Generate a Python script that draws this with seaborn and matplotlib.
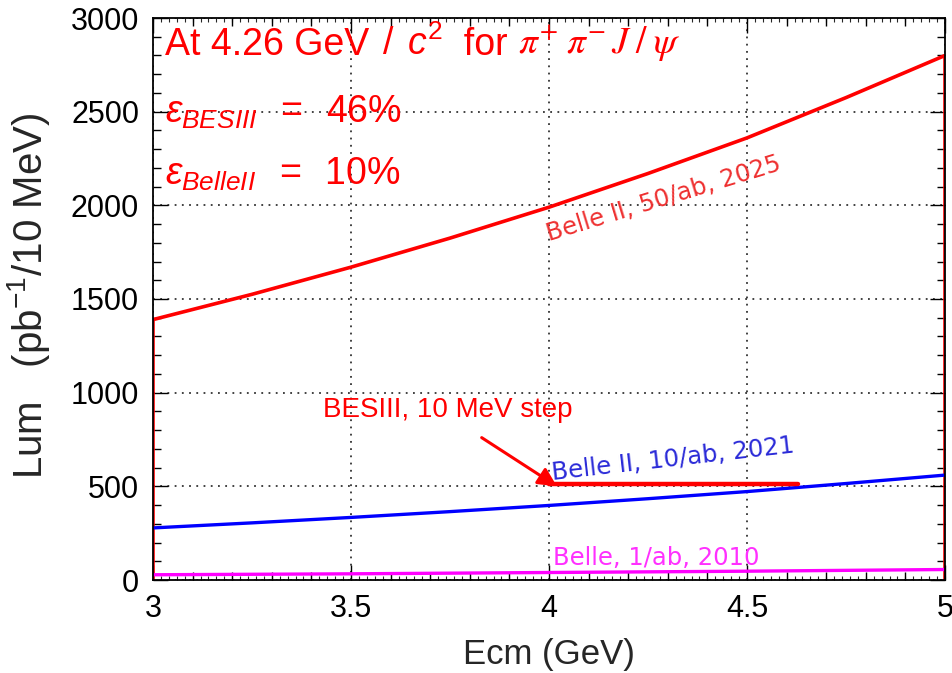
import numpy as np
import pandas as pd
import matplotlib
matplotlib.use("Agg")
import matplotlib.pyplot as plt
import seaborn as sns
from matplotlib.ticker import MultipleLocator, NullLocator, NullFormatter

# ---------------- data ----------------
ecm = [3.0, 3.25, 3.5, 3.75, 4.0, 4.25, 4.5, 4.75, 5.0]
lum_belle2_50ab = [1390, 1525, 1670, 1825, 1990, 2170, 2360, 2575, 2800]
lum_belle2_10ab = [278, 305, 334, 365, 398, 434, 472, 515, 560]
lum_belle_1ab = [28, 30.5, 33, 36.5, 40, 43.5, 47, 51.5, 56]
besiii_x = [4.0, 4.63]
besiii_y = [515, 515]

title_plain = "At 4.26 GeV"
title_math = r"$\;\,/\;\,c^{2}$"
title_tail = "  for "
title_particles = r"$\pi^{+}\;\pi^{-}\,J\;/\;\psi$"
eff_texts = [r"$\varepsilon_{BESIII}\;\;=\;\;46\%$", r"$\varepsilon_{BelleII}\;\;=\;\;10\%$"]
curve_labels = ["Belle II, 50/ab, 2025", "Belle II, 10/ab, 2021", "Belle, 1/ab, 2010"]
besiii_label = "BESIII, 10 MeV step"

# ---------------- style ----------------
sns.set_theme(style="ticks")
plt.rcParams["font.family"] = ["Liberation Sans", "DejaVu Sans"]
plt.rcParams["mathtext.fontset"] = "custom"
plt.rcParams["mathtext.rm"] = "Liberation Sans"
plt.rcParams["mathtext.it"] = "Liberation Sans:italic"
plt.rcParams["mathtext.bf"] = "Liberation Sans:bold"

fig = plt.figure(figsize=(9.53, 6.73), dpi=100)
ax = fig.add_axes([153 / 953, 93 / 673, 792 / 953, 562 / 673])

# red histogram-like curve, with its edges to zero
df_red = pd.DataFrame({"x": [ecm[0]] + ecm + [ecm[-1]],
                       "y": [0] + lum_belle2_50ab + [0]})
sns.lineplot(data=df_red, x="x", y="y", color="#ff0000", lw=2.6,
             estimator=None, sort=False, ax=ax)
sns.lineplot(x=ecm, y=lum_belle2_10ab, color="#0000ff", lw=2.4, ax=ax)
sns.lineplot(x=ecm, y=lum_belle_1ab, color="#ff00ff", lw=2.4, ax=ax)
sns.lineplot(x=besiii_x, y=besiii_y, color="#ff0000", lw=3.2, ax=ax)

ax.set_xlim(3, 5)
ax.set_ylim(0, 3000)

# ticks ROOT-style
ax.xaxis.set_major_locator(MultipleLocator(0.5))
ax.xaxis.set_minor_locator(MultipleLocator(0.1))
ax.yaxis.set_major_locator(MultipleLocator(500))
ax.yaxis.set_minor_locator(MultipleLocator(100))
ax.set_xticks([3, 3.5, 4, 4.5, 5])
ax.set_xticklabels(["3", "3.5", "4", "4.5", "5"])
ax.tick_params(which="both", direction="in", top=True, right=True,
               colors="black", width=1.0, labelsize=22)
ax.tick_params(which="major", length=11)
ax.tick_params(which="minor", length=6)
ax.tick_params(axis="x", pad=10)
ax.tick_params(axis="y", pad=10)

# finest x ticks through secondary axes
for loc in ("bottom", "top"):
    sec = ax.secondary_xaxis(loc)
    sec.xaxis.set_major_locator(NullLocator())
    sec.xaxis.set_minor_locator(MultipleLocator(0.02))
    sec.xaxis.set_minor_formatter(NullFormatter())
    sec.tick_params(which="minor", direction="in", length=3, width=0.8)
    sec.spines[loc].set_visible(False)

for s in ax.spines.values():
    s.set_color("black")
    s.set_linewidth(1.3)

ax.grid(True, which="major", color="#333333", linestyle=(0, (1, 3)), lw=1.3)
ax.set_axisbelow(True)

ax.set_xlabel("Ecm (GeV)", fontsize=25, labelpad=10)
ax.set_ylabel(r"Lum   (pb$^{-1}$/10 MeV)", fontsize=29, labelpad=10)
ax.yaxis.set_label_coords(-0.128, 0.505)

# annotations
t = ax.text(3.03, 2803, title_plain, color="#ff0000", fontsize=27, va="baseline", ha="left")
t2 = ax.annotate(title_math, xy=(1, 0), xycoords=t, color="#ff0000", fontsize=27,
                 va="bottom", ha="left")
t3 = ax.annotate(title_tail, xy=(1, 0), xycoords=t2, color="#ff0000", fontsize=27,
                 va="bottom", ha="left")
t4 = ax.annotate(title_particles, xy=(1, 0), xycoords=t3, color="#ff0000", fontsize=27,
                 va="bottom", ha="left", math_fontfamily="stix")

ax.text(3.03, 2440, eff_texts[0], color="#ff0000", fontsize=27, va="baseline", ha="left")
ax.text(3.03, 2109, eff_texts[1], color="#ff0000", fontsize=27, va="baseline", ha="left")

lab_font = dict(family=["DejaVu Sans"], fontsize=17.5,
                rotation_mode="anchor", ha="left", va="baseline")
ax.text(4.0, 1810, curve_labels[0], color="#ee3030", rotation=17, **lab_font)
ax.text(4.01, 534, curve_labels[1], color="#2a2ad8", rotation=6.5, **lab_font)
ax.text(4.01, 80, curve_labels[2], color="#ff30ff", rotation=0, **lab_font)

ax.text(3.43, 905, besiii_label, color="#ff0000", fontsize=20, va="center", ha="left")
ax.annotate("", xy=(4.02, 500), xytext=(3.83, 760),
            arrowprops=dict(arrowstyle="-|>", color="#ff0000", lw=2.2,
                            mutation_scale=28, shrinkA=0, shrinkB=0))

fig.savefig("out.png", dpi=100)
